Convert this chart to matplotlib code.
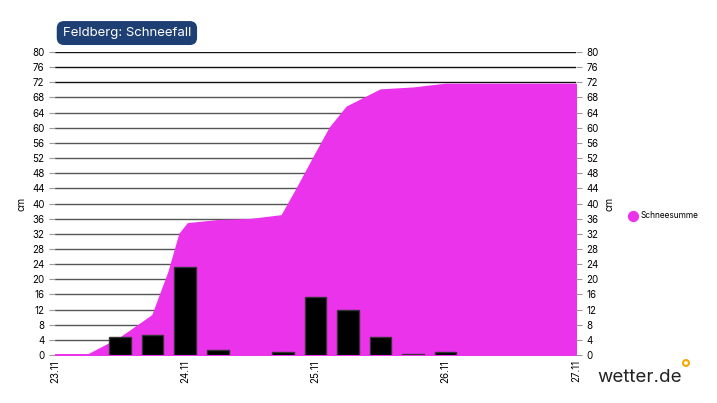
import matplotlib.pyplot as plt
import numpy as np

# hours since 23.11 00:00
area_hours = [0, 6, 12, 18, 21, 23, 24.5, 30, 36, 41.8, 45, 48, 50.7, 53.8, 60, 66, 72, 96]
area_vals = [0, 0, 4.5, 10.5, 22, 32, 34.7, 35.5, 35.8, 36.8, 45, 53, 60, 65.5, 70, 70.5, 71.5, 71.5]
bar_hours = [12, 18, 24, 30, 42, 48, 54, 60, 66, 72]
bar_vals = [4.8, 5.3, 23.3, 1.2, 0.9, 15.2, 11.9, 4.8, 0.4, 0.8]
day_labels = ['23.11', '24.11', '25.11', '26.11', '27.11']

plt.rcParams['font.family'] = ['Inter', 'DejaVu Sans']
fig = plt.figure(figsize=(7.17, 4.03), dpi=100)
ax = fig.add_axes([0.0767, 0.119, 0.7263, 0.752])
ax.fill_between(area_hours, area_vals, color='#ea33ea', lw=1.5, edgecolor='#ea33ea', zorder=2)
ax.bar(bar_hours, bar_vals, width=4.0, color='black', edgecolor='#333333', lw=1, zorder=3)
ax.set_xlim(0, 96)
ax.set_ylim(0, 80)
yt = np.arange(0, 81, 4)
ax.set_yticks(yt)
for y in yt:
    ax.axhline(y, color='#111111' if y >= 72 else '#555555', lw=1, zorder=1)
ax.set_xticks([0, 24, 48, 72, 96])
ax.set_xticklabels(day_labels, rotation=90, fontsize=7)
ax.tick_params(axis='y', labelsize=7, length=4, color='#999999')
ax.tick_params(axis='x', length=0)
for s in ax.spines.values():
    s.set_visible(False)
ax.set_ylabel('cm', fontsize=7)
ax2 = ax.twinx()
ax2.set_ylim(0, 80)
ax2.set_yticks(yt)
ax2.tick_params(axis='y', labelsize=7, length=4, color='#999999')
for s in ax2.spines.values():
    s.set_visible(False)
ax2.set_ylabel('cm', fontsize=7)

fig.text(0.177, 0.918, 'Feldberg: Schneefall', fontsize=9.5, color='white', ha='center', va='center',
         bbox=dict(boxstyle='round,pad=0.4,rounding_size=0.5', fc='#1e3f73', ec='#1e3f73'))
ax_leg = fig.add_axes([0, 0, 1, 1], facecolor='none')
ax_leg.set_axis_off()
ax_leg.set_xlim(0, 717)
ax_leg.set_ylim(403, 0)
ax_leg.scatter([633], [216], s=50, color='#ea33ea')
ax_leg.text(641, 216, 'Schneesumme', fontsize=6, va='center')
ax_leg.text(597, 377, 'wetter.de', fontsize=13.5, va='center', color='#222222')
ax_leg.scatter([686], [363], s=18, facecolor='none', edgecolor='#f5a800', lw=1.5)
fig.savefig('out.png', dpi=100)
